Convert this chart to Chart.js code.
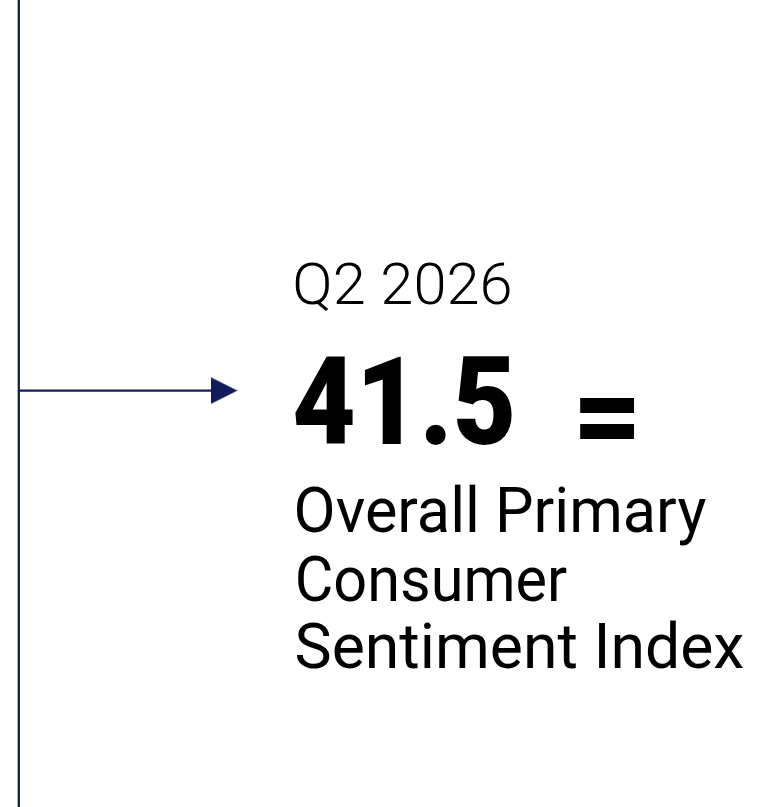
<!DOCTYPE html>
<html>
<head>
<meta charset="utf-8">
<script src="https://cdn.jsdelivr.net/npm/chart.js@4.4.1/dist/chart.umd.min.js"></script>
<style>
  html, body { margin: 0; padding: 0; background: #ffffff; }
  #wrap { position: relative; width: 763px; height: 807px; }
</style>
</head>
<body>
<div id="wrap"><canvas id="chart"></canvas></div>
<script>
// ---- data ----
const periods = ['Q2 2026'];
const indexValues = [41.5];
const trendSymbols = ['='];
const indexLabelLines = ['Overall Primary', 'Consumer', 'Sentiment Index'];

// ---- layout / style (pixel frame of the graphic) ----
const W = 763, H = 807;
const NAVY = '#121b5c';
const FONT = 'Roboto';
const layout = {
  timelineX: 18.8,
  markerY: 390.6,
  arrowCenterX: 224,
  period: { left: 295.5, right: 510, top: 262.5, base: 304, weight: 300 },
  value:  { left: 295, right: 511.5, top: 356.7, base: 444, weight: 900 },
  trend:  { left: 580, right: 634.7, top: 398.3, bottom: 438.7, weight: 900 },
  label: [
    { left: 296.5, right: 706.5, top: 485.5, base: 531.5 },
    { left: 297.5, right: 567,   top: 555.5, base: 600.5 },
    { left: 296.5, right: 743,   top: 622.5, base: 668 }
  ],
  labelWeight: 400
};

// arrowhead image used as point style
const head = document.createElement('canvas');
head.width = 27; head.height = 27;
(function () {
  const c = head.getContext('2d');
  c.fillStyle = NAVY;
  c.beginPath();
  c.moveTo(0, 0); c.lineTo(27, 13.5); c.lineTo(0, 27); c.closePath();
  c.fill();
})();

function fitText(ctx, text, weight, box) {
  ctx.font = `${weight} 100px ${FONT}`;
  const ref = ctx.measureText(text.charAt(0));
  const size = 100 * (box.base - box.top) / ref.actualBoundingBoxAscent;
  ctx.font = `${weight} ${size}px ${FONT}`;
  const m = ctx.measureText(text);
  const inkW = m.actualBoundingBoxLeft + m.actualBoundingBoxRight;
  const sx = (box.right - box.left) / inkW;
  ctx.save();
  ctx.translate(box.left, box.base);
  ctx.scale(sx, 1);
  ctx.textAlign = 'left';
  ctx.textBaseline = 'alphabetic';
  ctx.fillText(text, m.actualBoundingBoxLeft, 0);
  ctx.restore();
}

function boxText(ctx, text, weight, box) {
  ctx.font = `${weight} 100px ${FONT}`;
  const m = ctx.measureText(text);
  const inkW = m.actualBoundingBoxLeft + m.actualBoundingBoxRight;
  const inkH = m.actualBoundingBoxAscent + m.actualBoundingBoxDescent;
  ctx.save();
  ctx.translate(box.left, box.top);
  ctx.scale((box.right - box.left) / inkW, (box.bottom - box.top) / inkH);
  ctx.textAlign = 'left';
  ctx.textBaseline = 'alphabetic';
  ctx.fillText(text, m.actualBoundingBoxLeft, m.actualBoundingBoxAscent);
  ctx.restore();
}

const textPlugin = {
  id: 'sentimentText',
  afterDatasetsDraw(chart) {
    const ctx = chart.ctx;
    ctx.save();
    ctx.fillStyle = '#000000';
    fitText(ctx, periods[0], layout.period.weight, layout.period);
    fitText(ctx, String(indexValues[0]), layout.value.weight, layout.value);
    boxText(ctx, trendSymbols[0], layout.trend.weight, layout.trend);
    indexLabelLines.forEach((line, i) => fitText(ctx, line, layout.labelWeight, layout.label[i]));
    ctx.restore();
  }
};

document.fonts.load(`300 40px ${FONT}`).then(() => document.fonts.load(`900 40px ${FONT}`))
  .then(() => document.fonts.load(`400 40px ${FONT}`)).catch(() => {}).then(draw);

function draw() {
  new Chart(document.getElementById('chart'), {
    type: 'line',
    data: {
      datasets: [
        {
          label: 'timeline',
          data: [{ x: layout.timelineX, y: 0 }, { x: layout.timelineX, y: H }],
          borderColor: NAVY,
          borderWidth: 2.3,
          pointRadius: 0,
          pointHoverRadius: 0,
          clip: false
        },
        {
          label: periods[0],
          data: [{ x: layout.timelineX, y: layout.markerY }, { x: layout.arrowCenterX, y: layout.markerY }],
          borderColor: NAVY,
          borderWidth: 2.4,
          pointRadius: c => (c.dataIndex === 1 ? 13 : 0),
          pointHoverRadius: c => (c.dataIndex === 1 ? 13 : 0),
          pointStyle: head,
          pointBackgroundColor: NAVY,
          clip: false
        }
      ]
    },
    options: {
      responsive: true,
      maintainAspectRatio: false,
      animation: false,
      events: [],
      layout: { padding: 0, autoPadding: false },
      plugins: { legend: { display: false }, tooltip: { enabled: false } },
      scales: {
        x: { type: 'linear', min: 0, max: W, display: false, grace: 0 },
        y: { type: 'linear', min: 0, max: H, reverse: true, display: false, grace: 0 }
      }
    },
    plugins: [textPlugin]
  });
}
</script>
</body>
</html>
